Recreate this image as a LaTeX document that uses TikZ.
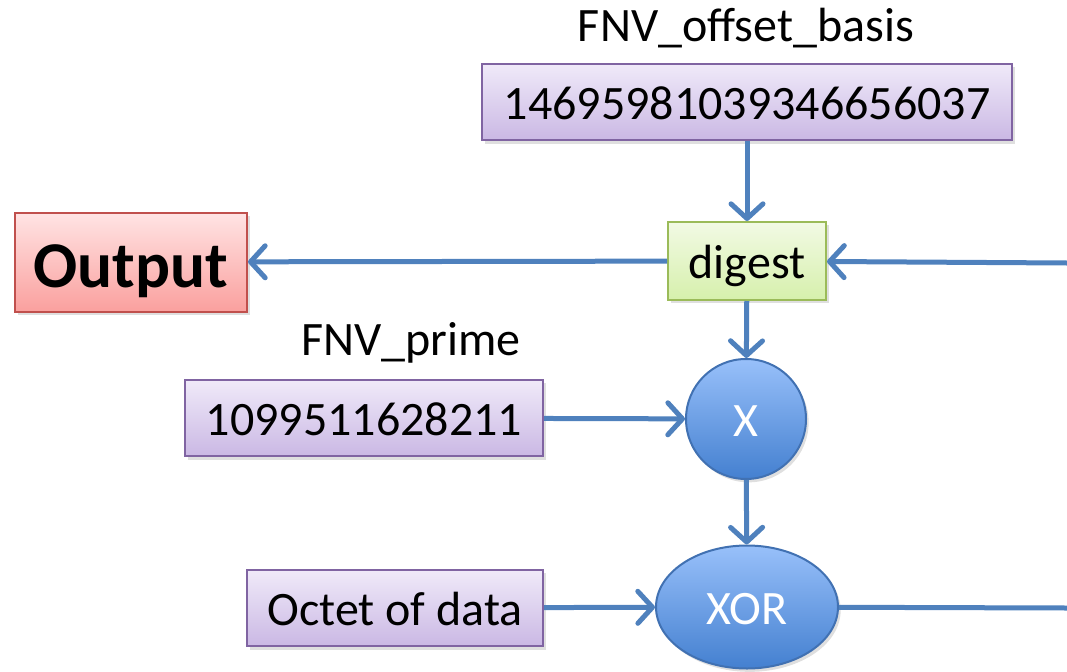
\documentclass[tikz,border=0pt]{standalone}
\usepackage{fontspec}
\setmainfont{Carlito}
\usetikzlibrary{arrows.meta,shapes.geometric,shadows}
\definecolor{lineblue}{RGB}{79,129,189}
\definecolor{purpline}{RGB}{128,100,162}
\definecolor{grnline}{RGB}{155,187,89}
\definecolor{redline}{RGB}{192,80,77}
\definecolor{ballline}{RGB}{65,113,178}
\tikzset{
  shade/.style={drop shadow={opacity=0.25,shadow xshift=2pt,shadow yshift=-2.5pt}},
  big/.style={font=\fontsize{36}{40}\selectfont,text height=26pt,text depth=0pt},
  val/.style={draw=purpline,line width=1.5pt,top color={rgb,255:red,240;green,234;blue,249},
    bottom color={rgb,255:red,202;green,184;blue,228},shade,inner sep=0pt,
    minimum height=57.5pt,big},
  dig/.style={draw=grnline,line width=1.5pt,top color={rgb,255:red,242;green,250;blue,228},
    bottom color={rgb,255:red,214;green,240;blue,172},shade,inner sep=0pt,
    minimum width=118.5pt,minimum height=58.5pt,big},
  outbox/.style={draw=redline,line width=1.5pt,top color={rgb,255:red,255;green,228;blue,228},
    bottom color={rgb,255:red,250;green,160;blue,158},shade,inner sep=0pt,
    minimum width=174pt,minimum height=74.25pt,font=\fontsize{49}{54}\selectfont\bfseries,
    text height=38pt,text depth=0pt},
  op/.style={draw=ballline,line width=1.5pt,top color={rgb,255:red,152;green,192;blue,250},
    bottom color={rgb,255:red,68;green,128;blue,208},shade,inner sep=0pt,
    text=white,big},
  lbl/.style={font=\fontsize{36}{40}\selectfont},
  wire/.style={draw=lineblue,line width=3.75pt},
  arr/.style={wire,-{Straight Barb[length=11pt,width=24pt,line cap=round,line join=round]}},
}
\begin{document}
\begin{tikzpicture}[x=0.75pt,y=-0.75pt]
  \useasboundingbox (0,0) rectangle (1067,671);
  % constants
  \node[lbl] (basislbl) at (746,28) {FNV\_offset\_basis};
  \node[val,minimum width=397.5pt] (basis) at (747,102) {14695981039346656037};
  \node[lbl] (primelbl) at (411,343) {FNV\_prime};
  \node[val,minimum width=268.5pt] (prime) at (364,418) {1099511628211};
  \node[val,minimum width=222pt] (octet) at (395,608) {Octet of data};
  % state and output
  \node[dig] (digest) at (747,261) {digest};
  \node[outbox] (out) at (131,262) {Output};
  % operations
  \node[op,circle,minimum size=90pt] (mul) at (746,419) {X};
  \node[op,ellipse,minimum width=136.5pt,minimum height=92.25pt] (xor) at (747,607) {XOR};
  % loop ends at the right margin
  \coordinate (back) at (1067,263);
  \coordinate (feed) at (1067,608);
  \draw[arr] (basis) -- (digest);
  \draw[arr] (digest) -- (mul);
  \draw[arr] (mul) -- (xor);
  \draw[arr] (prime) -- (mul);
  \draw[arr] (octet) -- (xor);
  \draw[arr] (digest) -- (out);
  \draw[arr] (back) -- (digest);
  \draw[wire] (xor) -- (feed);
\end{tikzpicture}
\end{document}
